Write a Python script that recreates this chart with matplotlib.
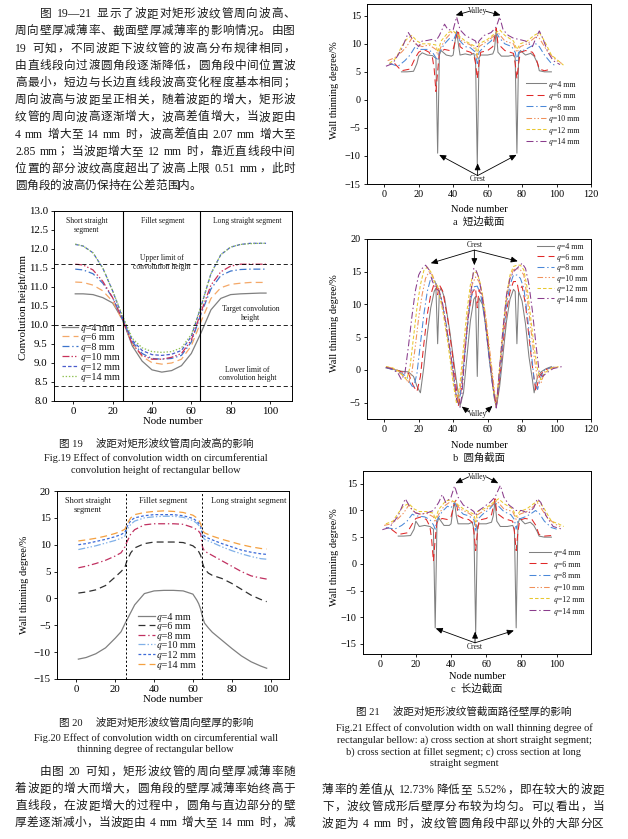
import re
import matplotlib
matplotlib.use('Agg')
import matplotlib.pyplot as plt

# ---------------- data ----------------
LABELS = ['\U0001D45E=4 mm', '\U0001D45E=6 mm', '\U0001D45E=8 mm', '\U0001D45E=10 mm', '\U0001D45E=12 mm', '\U0001D45E=14 mm']

# Fig.19 convolution height (mm)
F19_X = [1, 5, 10, 15, 20, 25, 30, 35, 40, 45, 50, 55, 60, 65, 70, 75, 80, 85, 90, 95, 98]
F19_Q4 = [10.82, 10.82, 10.80, 10.72, 10.58, 10.15, 9.45, 9.05, 8.82, 8.76, 8.80, 8.93, 9.25, 9.80, 10.40, 10.70, 10.80, 10.82, 10.83, 10.84, 10.84]
F19_Q6 = [11.13, 11.12, 11.05, 10.90, 10.62, 10.12, 9.52, 9.17, 9.01, 8.97, 9.00, 9.10, 9.45, 10.10, 10.70, 10.98, 11.07, 11.10, 11.12, 11.12, 11.12]
F19_Q8 = [11.47, 11.45, 11.35, 11.10, 10.72, 10.15, 9.56, 9.25, 9.12, 9.10, 9.12, 9.20, 9.55, 10.30, 10.95, 11.30, 11.42, 11.46, 11.47, 11.47, 11.47]
F19_Q10 = [11.60, 11.58, 11.45, 11.15, 10.72, 10.15, 9.50, 9.20, 9.10, 9.10, 9.15, 9.25, 9.60, 10.35, 11.05, 11.40, 11.55, 11.60, 11.60, 11.60, 11.60]
F19_Q12 = [12.12, 12.08, 11.90, 11.50, 10.90, 10.20, 9.60, 9.33, 9.22, 9.20, 9.23, 9.33, 9.70, 10.50, 11.35, 11.85, 12.05, 12.12, 12.15, 12.15, 12.15]
F19_Q14 = [12.13, 12.08, 11.90, 11.50, 10.90, 10.25, 9.65, 9.40, 9.30, 9.28, 9.30, 9.40, 9.75, 10.50, 11.35, 11.85, 12.05, 12.12, 12.14, 12.15, 12.15]
F19_LIMITS = [11.6, 10.0, 8.4]
SEG_BOUNDS = [25.5, 64.5]

# Fig.20 circumferential wall thinning degree (%)
F20_X = [1, 5, 10, 15, 20, 23, 25, 26, 28, 30, 35, 40, 45, 50, 55, 60, 62, 63, 64, 65, 66, 68, 70, 75, 80, 85, 90, 95, 98]
F20_Q4 = [-11.3, -11.0, -10.3, -9.2, -7.4, -6.2, -4.7, -4.0, -2.6, -1.2, 0.9, 1.4, 1.5, 1.5, 1.4, 0.8, -0.3, -1.0, -2.0, -3.5, -4.6, -5.5, -6.3, -7.8, -9.3, -10.7, -11.8, -12.6, -13.0]
F20_Q6 = [1.0, 1.2, 1.6, 2.4, 4.0, 5.0, 5.8, 7.0, 8.5, 9.4, 10.2, 10.5, 10.5, 10.5, 10.4, 9.8, 9.2, 8.7, 8.0, 6.5, 5.5, 4.7, 4.3, 3.7, 2.8, 1.7, 0.6, -0.2, -0.6]
F20_Q8 = [5.7, 6.0, 6.5, 7.1, 7.9, 8.5, 9.6, 10.5, 12.0, 12.8, 13.7, 13.9, 13.9, 13.9, 13.8, 13.2, 12.8, 12.5, 12.0, 9.5, 8.8, 8.4, 8.0, 7.0, 6.0, 5.0, 4.2, 3.8, 3.6]
F20_Q10 = [9.1, 9.4, 9.8, 10.3, 10.8, 11.2, 11.6, 12.8, 13.8, 14.4, 15.0, 15.2, 15.3, 15.3, 15.1, 14.5, 14.0, 13.6, 13.0, 11.5, 11.0, 10.7, 10.4, 9.6, 8.9, 8.3, 7.8, 7.4, 7.3]
F20_Q12 = [10.0, 10.2, 10.6, 11.0, 11.5, 11.9, 12.3, 13.3, 14.5, 15.0, 15.4, 15.6, 15.6, 15.6, 15.4, 14.9, 14.4, 14.0, 13.4, 12.0, 11.6, 11.2, 10.9, 10.2, 9.6, 9.0, 8.6, 8.3, 8.2]
F20_Q14 = [10.7, 10.9, 11.2, 11.6, 12.1, 12.5, 12.9, 13.8, 15.0, 15.6, 16.0, 16.2, 16.3, 16.2, 16.0, 15.5, 15.0, 14.6, 13.9, 12.6, 12.2, 11.9, 11.6, 11.0, 10.5, 10.0, 9.6, 9.3, 9.2]

# Fig.21a short straight segment section: (node, thinning %)
A_Q4 = [(10, 5.0), (13, 5.0), (17, 5.1), (19, 6.5), (20, 7.8), (22, 8.4), (25, 8.0), (28, 7.9), (30, 7.4), (31, -9.5),
        (32, 8.0), (33, 8.8), (36, 8.0), (39, 7.8), (40, 8.0), (41, 10.2), (42, 12.3), (43, 10.0), (44, 8.0), (47, 8.2),
        (50, 8.0), (52, 8.3), (53, 7.0), (54, -11.5), (55, 7.5), (56, 8.0), (60, 8.0), (63, 8.2), (64, 9.0), (65, 12.5),
        (66, 8.5), (68, 7.8), (72, 7.8), (75, 8.0), (76, 7.5), (77, -9.5), (78, 8.0), (79, 8.8), (82, 8.0), (85, 8.3),
        (87, 7.8), (89, 6.5), (90, 5.2), (93, 5.0), (97, 5.0)]
A_Q6 = [(6, 6.5), (10, 5.2), (15, 5.5), (18, 7.5), (20, 8.5), (23, 9.0), (26, 8.5), (28, 7.5), (29, 5.5), (30, 1.5),
        (31, 5.0), (32, 8.5), (35, 9.0), (38, 8.8), (40, 9.0), (42, 11.5), (43, 12.5), (44, 9.5), (47, 8.8), (50, 8.5),
        (52, 8.0), (53, 6.5), (54, 3.8), (55, 6.5), (56, 8.5), (60, 8.8), (63, 9.5), (65, 12.8), (66, 10.0), (70, 8.8),
        (73, 8.5), (75, 8.3), (76, 6.5), (77, 3.8), (78, 6.5), (79, 8.5), (82, 8.8), (86, 8.5), (88, 7.5), (90, 5.5),
        (93, 5.2), (97, 5.5)]
A_Q8 = [(3, 6.5), (8, 6.0), (12, 7.0), (15, 8.0), (18, 9.5), (20, 9.0), (25, 9.0), (28, 8.5), (30, 7.5), (31, 7.0),
        (32, 8.5), (35, 10.0), (38, 11.0), (40, 10.5), (42, 12.0), (44, 10.5), (47, 9.5), (50, 9.3), (53, 8.5), (54, 6.5),
        (55, 8.5), (58, 9.5), (62, 10.5), (65, 12.0), (67, 11.0), (70, 10.0), (74, 9.5), (76, 8.5), (77, 7.0), (78, 8.5),
        (82, 9.0), (85, 9.5), (88, 10.0), (90, 9.5), (93, 8.0), (97, 6.5), (100, 6.0)]
A_Q10 = [(2, 7.0), (6, 7.5), (10, 8.5), (13, 9.5), (16, 11.0), (18, 10.0), (22, 9.5), (26, 9.8), (30, 9.0), (31, 8.0),
         (33, 9.5), (36, 11.0), (39, 12.0), (42, 12.0), (45, 10.5), (50, 9.8), (53, 9.0), (54, 7.5), (55, 9.5), (60, 10.5),
         (64, 11.5), (66, 12.0), (70, 10.5), (75, 10.0), (77, 8.5), (79, 9.5), (83, 10.0), (87, 11.0), (89, 11.5), (91, 10.5),
         (95, 8.5), (100, 7.0), (103, 6.5)]
A_Q12 = [(3, 6.5), (7, 7.5), (10, 9.5), (13, 10.8), (16, 11.5), (19, 10.5), (22, 10.0), (26, 10.0), (30, 9.8), (31, 8.5),
         (33, 10.5), (37, 12.0), (40, 12.3), (43, 11.5), (47, 10.5), (50, 10.0), (53, 9.5), (54, 8.0), (55, 10.0), (60, 10.8),
         (64, 11.8), (67, 12.5), (70, 11.5), (75, 10.5), (77, 9.0), (79, 10.0), (83, 10.5), (87, 11.5), (90, 12.0), (93, 10.5),
         (97, 8.0), (101, 7.0), (104, 6.2)]
A_Q14 = [(1, 6.0), (5, 6.5), (10, 9.0), (14, 12.0), (17, 10.5), (20, 9.5), (22, 10.5), (25, 10.6), (28, 10.8), (30, 10.5),
         (32, 11.5), (35, 13.5), (37, 12.5), (40, 12.5), (42, 14.8), (44, 12.5), (47, 11.5), (50, 11.0), (53, 10.5), (54, 9.5),
         (55, 10.5), (58, 11.5), (62, 12.0), (65, 13.0), (67, 14.8), (69, 12.5), (72, 11.5), (75, 11.0), (78, 10.8), (82, 10.5),
         (86, 9.5), (88, 11.0), (90, 12.3), (92, 11.0), (95, 8.5), (98, 7.0), (102, 6.3)]

# Fig.21b fillet segment section
B_Q4 = [(1, 0.3), (5, 0.1), (10, -0.2), (14, -0.3), (17, -1.0), (19, -2.5), (21, -3.5), (23, 0.5), (25, 5.5), (27, 9.5),
        (29, 12.0), (30, 12.5), (31, 4.0), (32, 12.0), (33, 12.5), (35, 11.0), (38, 6.0), (41, 0.0), (44, -5.5), (46, -3.5),
        (48, 2.0), (50, 7.5), (52, 10.8), (53, 11.2), (54, -1.0), (55, 11.0), (57, 10.0), (59, 6.5), (61, 1.5), (63, -2.5),
        (65, -5.8), (67, -2.5), (69, 2.5), (71, 7.5), (73, 10.8), (75, 12.3), (76, 12.0), (77, 4.0), (78, 12.0), (80, 10.5),
        (82, 7.0), (84, 2.0), (86, -1.5), (87, -3.5), (89, -1.0), (91, -0.3), (94, 0.2), (97, 0.5)]
B_Q6 = [(1, 0.4), (5, 0.2), (10, -0.3), (14, -0.5), (17, -2.5), (19, -3.3), (21, -1.0), (23, 4.0), (25, 8.5), (27, 11.5),
        (29, 13.2), (30, 13.3), (31, 11.5), (32, 13.0), (34, 12.0), (37, 7.5), (40, 1.5), (43, -5.5), (45, -2.5), (47, 3.5),
        (49, 8.5), (51, 11.8), (53, 12.5), (54, 9.5), (55, 12.3), (57, 11.0), (59, 7.5), (61, 2.5), (63, -2.0), (65, -5.7),
        (67, -1.5), (69, 4.0), (71, 9.0), (73, 12.0), (75, 13.5), (77, 13.5), (78, 12.0), (80, 12.8), (82, 10.0), (84, 5.0),
        (86, 0.5), (88, -3.3), (90, -1.0), (92, -0.3), (95, 0.2), (98, 0.4)]
B_Q8 = [(1, 0.4), (5, 0.0), (10, -0.5), (13, -1.0), (15, -2.0), (17, -2.8), (19, -0.5), (21, 4.0), (23, 8.5), (25, 12.0),
        (27, 14.0), (29, 13.8), (31, 12.5), (33, 11.0), (36, 7.0), (39, 1.5), (42, -4.5), (44, -4.0), (46, 0.5), (48, 6.0),
        (50, 10.5), (52, 12.7), (54, 12.8), (56, 11.5), (58, 8.5), (60, 4.0), (62, -0.5), (64, -4.5), (65, -5.5), (67, -1.0),
        (69, 5.0), (71, 10.0), (73, 13.0), (75, 14.5), (77, 14.5), (79, 14.0), (81, 12.5), (83, 8.5), (85, 3.5), (87, -1.5),
        (89, -3.0), (91, -1.0), (93, 0.0), (96, 0.3), (100, 0.5)]
B_Q10 = [(1, 0.5), (5, 0.2), (9, -0.5), (12, -1.0), (14, -2.0), (16, -0.5), (18, 3.5), (20, 8.0), (22, 11.5), (24, 14.0),
         (26, 15.0), (28, 14.5), (30, 13.0), (32, 12.0), (35, 8.0), (38, 3.0), (41, -3.0), (43, -5.0), (45, -1.0), (47, 4.5),
         (49, 9.5), (51, 13.0), (53, 14.2), (55, 13.5), (57, 11.5), (59, 8.0), (61, 3.5), (63, -1.0), (65, -5.5), (67, 0.0),
         (69, 6.0), (71, 11.0), (73, 14.0), (75, 15.3), (77, 15.5), (79, 15.3), (81, 14.5), (83, 11.0), (85, 6.5), (87, 2.0),
         (89, -1.5), (91, -2.0), (93, -0.3), (97, 0.3), (101, 0.5)]
B_Q12 = [(1, 0.5), (5, 0.3), (9, -0.3), (11, -1.0), (13, -1.5), (15, 0.5), (17, 5.0), (19, 9.5), (21, 13.0), (23, 15.2),
         (25, 15.7), (27, 15.0), (29, 13.5), (31, 12.8), (34, 9.0), (37, 4.0), (40, -2.0), (42, -5.2), (44, -2.0), (46, 3.5),
         (48, 9.0), (50, 13.0), (52, 15.0), (54, 14.8), (56, 13.0), (58, 9.5), (60, 5.0), (62, 0.5), (64, -4.5), (65, -5.5),
         (67, 0.5), (69, 6.5), (71, 11.5), (73, 14.5), (75, 15.8), (77, 16.0), (79, 16.0), (81, 15.3), (83, 12.5), (85, 8.0),
         (87, 3.5), (89, 0.0), (91, -1.5), (93, -0.5), (97, 0.3), (102, 0.5)]
B_Q14 = [(1, 0.4), (5, 0.1), (8, -0.5), (10, -1.5), (12, -0.5), (14, 3.5), (16, 8.0), (18, 12.0), (20, 14.5), (22, 15.5),
         (24, 16.0), (26, 15.3), (28, 13.5), (30, 12.5), (32, 12.0), (34, 10.0), (37, 5.0), (40, 0.0), (42, -4.5), (44, -5.7),
         (45, -4.0), (47, 3.0), (49, 9.0), (51, 13.5), (52, 15.5), (53, 15.4), (55, 14.0), (57, 11.0), (59, 6.5), (61, 2.0),
         (63, -2.5), (65, -5.8), (67, 0.5), (69, 6.5), (71, 11.5), (73, 14.0), (75, 15.0), (77, 15.5), (79, 16.0), (80, 16.3),
         (82, 15.5), (84, 13.0), (86, 9.0), (88, 4.0), (90, -0.5), (92, -1.0), (94, -0.5), (98, 0.2), (103, 0.5)]

# Fig.21c long straight segment section
C_Q4 = [(10, 5.2), (13, 5.2), (17, 5.3), (19, 6.5), (20, 8.0), (22, 7.0), (25, 7.2), (28, 7.0), (30, 6.5), (31, -12.0),
        (32, 7.5), (33, 8.6), (36, 7.2), (39, 7.2), (40, 7.5), (41, 10.0), (42, 11.5), (43, 9.0), (44, 7.5), (47, 7.5),
        (50, 7.5), (52, 7.8), (53, 6.5), (54, -13.0), (55, 7.0), (56, 7.5), (60, 7.5), (63, 7.8), (64, 9.0), (65, 11.8),
        (66, 8.0), (68, 7.0), (72, 7.0), (75, 7.2), (76, 6.5), (77, -12.0), (78, 7.5), (79, 8.5), (82, 7.5), (85, 7.8),
        (87, 7.2), (89, 6.0), (90, 5.2), (93, 5.0), (97, 5.0)]
C_Q6 = [(6, 6.5), (10, 5.5), (15, 5.8), (18, 7.5), (20, 8.5), (23, 8.8), (26, 8.3), (28, 7.0), (29, 4.5), (30, 0.5),
        (31, 4.5), (32, 8.0), (35, 8.5), (38, 8.3), (40, 8.8), (42, 11.5), (43, 12.0), (44, 9.0), (47, 8.5), (50, 8.3),
        (52, 7.8), (53, 6.0), (54, 2.5), (55, 6.0), (56, 8.2), (60, 8.5), (63, 9.2), (65, 12.2), (66, 9.5), (70, 8.5),
        (73, 8.2), (75, 8.0), (76, 6.0), (77, 2.5), (78, 6.0), (79, 8.2), (82, 8.5), (86, 8.3), (88, 7.3), (90, 5.5),
        (93, 5.2), (97, 5.3)]
C_Q8 = [(3, 6.8), (8, 6.5), (12, 7.2), (15, 8.0), (18, 9.3), (20, 9.0), (25, 8.8), (28, 8.3), (30, 7.3), (31, 6.5),
        (32, 8.2), (35, 9.8), (38, 10.8), (40, 10.5), (42, 11.5), (44, 10.3), (47, 9.3), (50, 9.0), (53, 8.3), (54, 6.0),
        (55, 8.3), (58, 9.3), (62, 10.3), (65, 11.5), (67, 10.8), (70, 9.8), (74, 9.2), (76, 8.3), (77, 6.5), (78, 8.3),
        (82, 8.8), (85, 9.3), (88, 10.0), (90, 9.5), (93, 8.0), (97, 6.8), (100, 6.5)]
C_Q10 = [(2, 7.2), (6, 7.5), (10, 8.5), (13, 9.5), (16, 11.0), (18, 10.0), (22, 9.3), (26, 9.5), (30, 8.8), (31, 7.8),
         (33, 9.3), (36, 10.8), (39, 11.5), (42, 11.8), (45, 10.3), (50, 9.5), (53, 8.8), (54, 7.0), (55, 9.2), (60, 10.2),
         (64, 11.2), (66, 11.8), (70, 10.3), (75, 9.8), (77, 8.3), (79, 9.3), (83, 9.8), (87, 10.8), (89, 11.5), (91, 10.5),
         (95, 8.5), (100, 7.3), (103, 6.8)]
C_Q12 = [(3, 7.5), (7, 8.0), (10, 9.5), (13, 10.8), (16, 11.3), (19, 10.3), (22, 9.8), (26, 9.8), (30, 9.5), (31, 8.3),
         (33, 10.2), (37, 11.8), (40, 12.0), (43, 11.3), (47, 10.3), (50, 9.8), (53, 9.3), (54, 7.8), (55, 9.8), (60, 10.5),
         (64, 11.5), (67, 12.2), (70, 11.3), (75, 10.3), (77, 8.8), (79, 9.8), (83, 10.3), (87, 11.3), (90, 11.8), (93, 10.3),
         (97, 8.0), (101, 7.5), (104, 7.0)]
C_Q14 = [(1, 6.4), (5, 6.8), (10, 9.0), (14, 12.2), (17, 10.5), (20, 9.5), (23, 9.3), (26, 9.5), (30, 10.0), (33, 11.5),
         (35, 13.0), (37, 11.5), (40, 12.5), (42, 14.6), (44, 12.5), (47, 11.0), (50, 10.5), (53, 9.8), (54, 9.0), (55, 9.8),
         (58, 10.5), (62, 11.5), (65, 12.5), (68, 14.7), (70, 12.5), (73, 11.0), (77, 10.0), (80, 10.0), (84, 9.5), (87, 10.5),
         (89, 12.2), (91, 11.5), (94, 9.0), (98, 7.0), (103, 6.5)]

# ---------------- text ----------------
PARA1 = ["图 19—21 显示了波距对矩形波纹管周向波高、",
         "周向壁厚减薄率、截面壁厚减薄率的影响情况。由图",
         "19 可知，不同波距下波纹管的波高分布规律相同，",
         "由直线段向过渡圆角段逐渐降低，圆角段中间位置波",
         "高最小，短边与长边直线段波高变化程度基本相同；",
         "周向波高与波距呈正相关，随着波距的增大，矩形波",
         "纹管的周向波高逐渐增大，波高差值增大，当波距由",
         "4 mm 增大至 14 mm 时，波高差值由 2.07 mm 增大至",
         "2.85 mm；当波距增大至 12 mm 时，靠近直线段中间",
         "位置的部分波纹高度超出了波高上限 0.51 mm，此时",
         "圆角段的波高仍保持在公差范围内。"]
PARA2 = ["由图 20 可知，矩形波纹管的周向壁厚减薄率随",
         "着波距的增大而增大，圆角段的壁厚减薄率始终高于",
         "直线段，在波距增大的过程中，圆角与直边部分的壁",
         "厚差逐渐减小，当波距由 4 mm 增大至 14 mm 时，减"]
PARA3 = ["薄率的差值从 12.73%降低至 5.52%，即在较大的波距",
         "下，波纹管成形后壁厚分布较为均匀。可以看出，当",
         "波距为 4 mm 时，波纹管圆角段中部以外的大部分区"]

# ---------------- setup ----------------
W, H = 628, 839
plt.rcParams.update({
    'font.family': ['Liberation Serif', 'Noto Sans CJK SC'],
    'axes.linewidth': 0.7,
    'xtick.major.width': 0.6, 'ytick.major.width': 0.6,
    'xtick.major.size': 2.5, 'ytick.major.size': 2.5,
    'xtick.major.pad': 2, 'ytick.major.pad': 2,
    'lines.scale_dashes': False,
    'text.color': '#1a1a1a',
})
LEG_FAM = ['Liberation Serif', 'STIXGeneral', 'DejaVu Serif', 'DejaVu Sans']
fig = plt.figure(figsize=(W / 100, H / 100), dpi=100)
renderer = fig.canvas.get_renderer()


def add_ax(l, t, r, b):
    return fig.add_axes([l / W, 1 - b / H, (r - l) / W, (b - t) / H])


LATIN = r'[A-Za-z0-9.%—]'


def body_line(s, x0, x1, yc, size=8.4, justify=True):
    fpx = size * 100 / 72
    toks = re.findall(LATIN + r'+| |.', s)
    items = []
    for tk in toks:
        if tk == ' ':
            items.append((None, 0.28 * fpx))
        elif re.match(LATIN, tk):
            t = fig.text(0, 0, tk, fontsize=size, ha='left', va='baseline')
            items.append((t, t.get_window_extent(renderer).width + 0.6))
        else:
            t = fig.text(0, 0, tk, fontsize=size, ha='left', va='baseline')
            items.append((t, fpx))
    total = sum(w for _, w in items)
    n = len(items) - 1
    extra = (x1 - x0 - total) / n if (justify and n > 0) else 0.0
    x = x0
    yb = yc + 0.36 * fpx
    for t, w in items:
        if t is not None:
            t.set_position((x / W, 1 - yb / H))
        x += w + extra


def ctext(x, y, s, size=7.5):
    fig.text(x / W, 1 - y / H, s, ha='center', va='center', fontsize=size)


def legend_at(ax, xy, size, pitch, hl, pad):
    fpx = size * 100 / 72
    hs = []
    for lab in LABELS:
        t = fig.text(0, 0, lab, fontsize=size, family=LEG_FAM)
        hs.append(t.get_window_extent(renderer).height)
        t.remove()
    ls = max((pitch - max(hs)) / fpx, 0.03)
    ax.legend(loc='upper left', bbox_to_anchor=xy, frameon=False,
              prop={'family': LEG_FAM, 'size': size},
              handlelength=hl, handletextpad=pad, labelspacing=ls, borderpad=0, borderaxespad=0)


for i, line in enumerate(PARA1):
    body_line(line, 40 if i == 0 else 15, 295, 13 + 17.2 * i, justify=(i < len(PARA1) - 1))
for i, line in enumerate(PARA2):
    body_line(line, 40 if i == 0 else 15, 295, 771 + 17 * i)
for i, line in enumerate(PARA3):
    body_line(line, 322, 604, 789 + 17 * i)

# styles
ST19 = [dict(color='#808080', ls='-'), dict(color='#f4a868', dashes=(5, 3)),
        dict(color='#3c74cc', dashes=(5, 2, 1, 2)), dict(color='#c8325a', dashes=(5, 1.5, 1, 1.5, 1, 1.5)),
        dict(color='#4a5ccc', dashes=(2.5, 1.5)), dict(color='#8fc050', dashes=(1, 1.3))]
ST20 = [dict(color='#808080', ls='-'), dict(color='#303030', dashes=(5, 3)),
        dict(color='#c03060', dashes=(5, 2, 1, 2)), dict(color='#80b0e8', dashes=(5, 1.5, 1, 1.5, 1, 1.5)),
        dict(color='#3c6ad8', dashes=(2, 1.5)), dict(color='#f4a040', dashes=(5, 3))]
ST21 = [dict(color='#808080', ls='-'), dict(color='#e02828', dashes=(5, 3)),
        dict(color='#4a88d8', dashes=(5, 2, 1, 2)), dict(color='#f0905a', dashes=(4, 1.5, 1, 1.5, 1, 1.5)),
        dict(color='#e8c830', dashes=(2.5, 1.5)), dict(color='#8a3c8c', dashes=(5, 2, 1, 2))]

# ---------------- Fig.19 ----------------
ax = add_ax(54, 211, 292, 401)
for ys, st, lab in zip([F19_Q4, F19_Q6, F19_Q8, F19_Q10, F19_Q12, F19_Q14], ST19, LABELS):
    ax.plot(F19_X, ys, lw=0.9, label=lab, **st)
for v in F19_LIMITS:
    ax.axhline(v, color='k', lw=0.6, dashes=(3, 2))
for v in SEG_BOUNDS:
    ax.axvline(v, color='k', lw=0.8)
ax.set_xlim(-9.8, 111.2)
ax.set_ylim(8.0, 13.0)
ax.set_xticks([0, 20, 40, 60, 80, 100])
ax.set_yticks([8.0, 8.5, 9.0, 9.5, 10.0, 10.5, 11.0, 11.5, 12.0, 12.5, 13.0])
ax.yaxis.set_major_formatter(matplotlib.ticker.FormatStrFormatter('%.1f'))
ax.tick_params(labelsize=7.8)
ax.set_xlabel('Node number', fontsize=7.8)
ax.xaxis.set_label_coords(0.5, (401 - 421.7) / 190)
ax.xaxis.label.set_va('center')
ax.set_ylabel('Convolution height/mm', fontsize=7.8)
ax.yaxis.set_label_coords((24 - 54) / 238, 0.49)
ax.yaxis.label.set_va('center')
fs = 5.5
ax.text(6.8, 12.62, 'Short straight\nsegment', ha='center', va='center', fontsize=fs, linespacing=1.15)
ax.text(45.4, 12.74, 'Fillet segment', ha='center', va='center', fontsize=fs)
ax.text(88.4, 12.74, 'Long straight segment', ha='center', va='center', fontsize=fs)
ax.text(45.2, 11.65, 'Upper limit of\nconvolution height', ha='center', va='center', fontsize=fs, linespacing=1.15)
ax.text(90.2, 10.31, 'Target convolution\nheight', ha='center', va='center', fontsize=fs, linespacing=1.15)
ax.text(88.5, 8.71, 'Lower limit of\nconvolution height', ha='center', va='center', fontsize=fs, linespacing=1.15)
legend_at(ax, ((61.7 - 54) / 238, (401 - 323) / 190), 7.3, 9.7, 1.65, 0.26)
ctext(155.7, 444, '图 19\u3000 波距对矩形波纹管周向波高的影响', 7.6)
ctext(155.7, 458, 'Fig.19 Effect of convolution width on circumferential', 7.5)
ctext(155.7, 470, 'convolution height of rectangular bellow', 7.5)

# ---------------- Fig.20 ----------------
ax = add_ax(57, 491, 289, 679)
for ys, st, lab in zip([F20_Q4, F20_Q6, F20_Q8, F20_Q10, F20_Q12, F20_Q14], ST20, LABELS):
    ax.plot(F20_X, ys, lw=0.9, label=lab, **st)
for v in SEG_BOUNDS:
    ax.axvline(v, color='k', lw=0.7, dashes=(1.5, 1.5))
ax.set_xlim(-10, 109.5)
ax.set_ylim(-15, 20)
ax.set_xticks([0, 20, 40, 60, 80, 100])
ax.set_yticks([-15, -10, -5, 0, 5, 10, 15, 20])
ax.tick_params(labelsize=7.8)
ax.set_xlabel('Node number', fontsize=7.8)
ax.xaxis.set_label_coords(0.5, (679 - 700) / 188)
ax.xaxis.label.set_va('center')
ax.set_ylabel('Wall thinning degree/%', fontsize=7.5)
ax.yaxis.set_label_coords((25 - 57) / 232, 0.5)
ax.yaxis.label.set_va('center')
fs = 6.0
ax.text(5.7, 17.3, 'Short straight\nsegment', ha='center', va='center', fontsize=fs, linespacing=1.15)
ax.text(44.7, 18.1, 'Fillet segment', ha='center', va='center', fontsize=fs)
ax.text(88.5, 18.1, 'Long straight segment', ha='center', va='center', fontsize=fs)
legend_at(ax, ((137.7 - 57) / 232, (679 - 612) / 188), 7.3, 9.5, 1.7, 0.16)
ctext(155.8, 723, '图 20\u3000 波距对矩形波纹管周向壁厚的影响', 7.6)
ctext(155.8, 738, 'Fig.20 Effect of convolution width on circumferential wall', 7.5)
ctext(155.8, 749, 'thinning degree of rectangular bellow', 7.5)


# ---------------- Fig.21 ----------------
def arrow(ax, src, tip):
    ax.annotate('', xy=tip, xytext=src,
                arrowprops=dict(arrowstyle='-|>,head_length=0.5,head_width=0.22', lw=0.6, color='k',
                                shrinkA=0, shrinkB=0, mutation_scale=8))


def panel(box, series, xlim, ylim, xticks, yticks, leg_xy, leg_hl, leg_pad, leg_pitch, ylab_y,
          xlab_y, sub_y, sub_text):
    l, t, r, b = box
    ax = add_ax(l, t, r, b)
    for pts, st, lab in zip(series, ST21, LABELS):
        xs = [p[0] for p in pts]
        ys = [p[1] for p in pts]
        ax.plot(xs, ys, lw=0.75, label=lab, **st)
    ax.set_xlim(*xlim)
    ax.set_ylim(*ylim)
    ax.set_xticks(xticks)
    ax.set_yticks(yticks)
    ax.tick_params(labelsize=7.3)
    ax.set_xlabel('Node number', fontsize=7.5)
    ax.xaxis.set_label_coords(0.5, (b - xlab_y) / (b - t))
    ax.xaxis.label.set_va('center')
    ax.set_ylabel('Wall thinning degree/%', fontsize=7.4)
    ax.yaxis.set_label_coords((334.7 - l) / (r - l), ylab_y)
    ax.yaxis.label.set_va('center')
    legend_at(ax, leg_xy, 5.8, leg_pitch, leg_hl, leg_pad)
    ctext((l + r) / 2, sub_y, sub_text, 7.5)
    return ax


ax = panel((367, 4, 591, 184), [A_Q4, A_Q6, A_Q8, A_Q10, A_Q12, A_Q14], (-10, 120), (-15, 17.1),
           [0, 20, 40, 60, 80, 100, 120], [-15, -10, -5, 0, 5, 10, 15],
           ((525.7 - 367) / 224, (184 - 80.2) / 180), 2.48, 0.41, 11.5, 0.52, 209.7, 222, 'a  短边截面')
ax.text(54.2, 15.8, 'Valley', ha='center', va='center', fontsize=5.5)
arrow(ax, (49.5, 15.8), (41.5, 15.1))
arrow(ax, (59.0, 15.8), (67.5, 15.1))
ax.text(54.2, -14.1, 'Crest', ha='center', va='center', fontsize=5.5)
for tip in [(31.9, -9.8), (54.2, -11.3), (76.8, -9.8)]:
    arrow(ax, (54.2, -13.5), tip)

ax = panel((367, 239, 591, 419), [B_Q4, B_Q6, B_Q8, B_Q10, B_Q12, B_Q14], (-10, 120), (-7.5, 20),
           [0, 20, 40, 60, 80, 100, 120], [-5, 0, 5, 10, 15, 20],
           ((536.7 - 367) / 224, (419 - 242.7) / 180), 2.15, 0.41, 10.5, 0.53, 446, 458, 'b  圆角截面')
ax.text(52.3, 19.1, 'Crest', ha='center', va='center', fontsize=5.5)
for tip in [(27.0, 16.3), (52.3, 16.0), (77.5, 16.6)]:
    arrow(ax, (52.3, 18.3), tip)
ax.text(54.0, -6.7, 'Valley', ha='center', va='center', fontsize=5.5)
arrow(ax, (49.0, -6.4), (45.0, -5.6))
arrow(ax, (59.0, -6.4), (62.8, -5.5))

ax = panel((363, 471, 591, 654), [C_Q4, C_Q6, C_Q8, C_Q10, C_Q12, C_Q14], (-10, 119.5), (-16.9, 17.4),
           [0, 20, 40, 60, 80, 100], [-15, -10, -5, 0, 5, 10, 15],
           ((529 - 363) / 228, (654 - 548.5) / 183), 2.77, 0.33, 11.7, 0.53, 676.7, 689, 'c  长边截面')
ax.text(55.0, 16.3, 'Valley', ha='center', va='center', fontsize=5.5)
arrow(ax, (50.0, 16.3), (42.5, 15.1))
arrow(ax, (60.0, 16.3), (66.8, 15.1))
ax.text(53.4, -15.5, 'Crest', ha='center', va='center', fontsize=5.5)
for tip in [(31.3, -12.1), (53.7, -12.7), (75.7, -12.5)]:
    arrow(ax, (53.6, -14.8), tip)

ctext(464, 711.7, '图 21\u3000 波距对矩形波纹管截面路径壁厚的影响', 7.6)
ctext(464, 728, 'Fig.21 Effect of convolution width on wall thinning degree of', 7.5)
ctext(464, 740, 'rectangular bellow: a) cross section at short straight segment;', 7.5)
ctext(464, 752, 'b) cross section at fillet segment; c) cross section at long', 7.5)
ctext(464, 763, 'straight segment', 7.5)

fig.savefig('out.png', dpi=100)
